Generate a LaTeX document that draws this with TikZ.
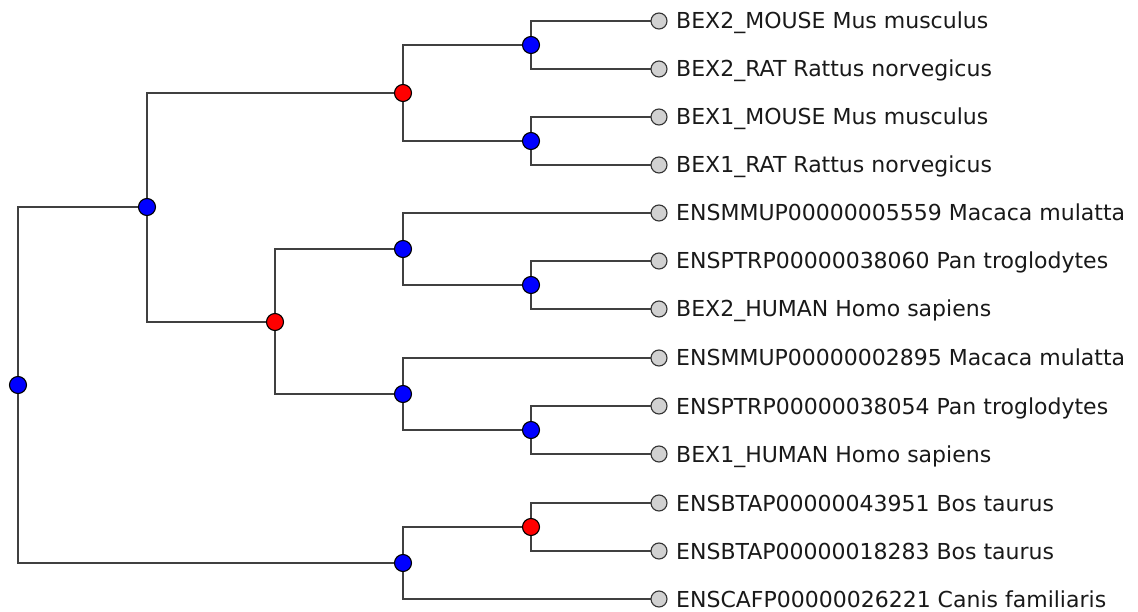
\documentclass[tikz,border=0pt]{standalone}
\usepackage{fontspec}
\setmainfont{DejaVu Sans}
\pgfdeclarelayer{bg}
\pgfsetlayers{bg,main}
\begin{document}
\begin{tikzpicture}[x=1pt,y=-1pt,
  inode/.style={circle, draw=black, line width=1.1pt, minimum size=17pt, inner sep=0pt},
  dup/.style={inode, fill=red},
  spec/.style={inode, fill=blue},
  leaf/.style={circle, draw=black!80, line width=1.1pt, fill=black!18, minimum size=16pt, inner sep=0pt},
  lbl/.style={anchor=base west, font=\fontsize{22}{26}\selectfont, inner sep=0pt, text=black!90},
  edge/.style={draw=black!75, line width=1.8pt, line join=miter}]
\useasboundingbox (0,0) rectangle (1138,612);
% internal nodes
\node[spec] (root) at (18,385) {};
\node[spec] (a) at (147,207) {};
\node[dup]  (d1) at (403,93) {};
\node[spec] (s1) at (531,45) {};
\node[spec] (s2) at (531,141) {};
\node[dup]  (d2) at (275,322) {};
\node[spec] (s3) at (403,249) {};
\node[spec] (s4) at (531,285) {};
\node[spec] (s5) at (403,394) {};
\node[spec] (s6) at (531,430) {};
\node[spec] (s7) at (403,563) {};
\node[dup]  (d3) at (531,527) {};
% leaves
\node[leaf] (l1) at (659,21) {};
\node[leaf] (l2) at (659,69) {};
\node[leaf] (l3) at (659,117) {};
\node[leaf] (l4) at (659,165) {};
\node[leaf] (l5) at (659,213) {};
\node[leaf] (l6) at (659,261) {};
\node[leaf] (l7) at (659,309) {};
\node[leaf] (l8) at (659,358) {};
\node[leaf] (l9) at (659,406) {};
\node[leaf] (l10) at (659,454) {};
\node[leaf] (l11) at (659,503) {};
\node[leaf] (l12) at (659,551) {};
\node[leaf] (l13) at (659,599) {};
% labels
\node[lbl] (t1) at (676,29) {BEX2\_MOUSE Mus musculus};
\node[lbl] (t2) at (676,77) {BEX2\_RAT Rattus norvegicus};
\node[lbl] (t3) at (676,125) {BEX1\_MOUSE Mus musculus};
\node[lbl] (t4) at (676,173) {BEX1\_RAT Rattus norvegicus};
\node[lbl] (t5) at (676,221) {ENSMMUP00000005559 Macaca mulatta};
\node[lbl] (t6) at (676,269) {ENSPTRP00000038060 Pan troglodytes};
\node[lbl] (t7) at (676,317) {BEX2\_HUMAN Homo sapiens};
\node[lbl] (t8) at (676,366) {ENSMMUP00000002895 Macaca mulatta};
\node[lbl] (t9) at (676,414) {ENSPTRP00000038054 Pan troglodytes};
\node[lbl] (t10) at (676,462) {BEX1\_HUMAN Homo sapiens};
\node[lbl] (t11) at (676,511) {ENSBTAP00000043951 Bos taurus};
\node[lbl] (t12) at (676,559) {ENSBTAP00000018283 Bos taurus};
\node[lbl] (t13) at (676,607) {ENSCAFP00000026221 Canis familiaris};
% edges
\begin{pgfonlayer}{bg}
\draw[edge] (root.center) |- (a.center);
\draw[edge] (root.center) |- (s7.center);
\draw[edge] (a.center) |- (d1.center);
\draw[edge] (a.center) |- (d2.center);
\draw[edge] (d1.center) |- (s1.center);
\draw[edge] (d1.center) |- (s2.center);
\draw[edge] (s1.center) |- (l1.center);
\draw[edge] (s1.center) |- (l2.center);
\draw[edge] (s2.center) |- (l3.center);
\draw[edge] (s2.center) |- (l4.center);
\draw[edge] (d2.center) |- (s3.center);
\draw[edge] (d2.center) |- (s5.center);
\draw[edge] (s3.center) |- (l5.center);
\draw[edge] (s3.center) |- (s4.center);
\draw[edge] (s4.center) |- (l6.center);
\draw[edge] (s4.center) |- (l7.center);
\draw[edge] (s5.center) |- (l8.center);
\draw[edge] (s5.center) |- (s6.center);
\draw[edge] (s6.center) |- (l9.center);
\draw[edge] (s6.center) |- (l10.center);
\draw[edge] (s7.center) |- (d3.center);
\draw[edge] (s7.center) |- (l13.center);
\draw[edge] (d3.center) |- (l11.center);
\draw[edge] (d3.center) |- (l12.center);
\end{pgfonlayer}
\end{tikzpicture}
\end{document}
